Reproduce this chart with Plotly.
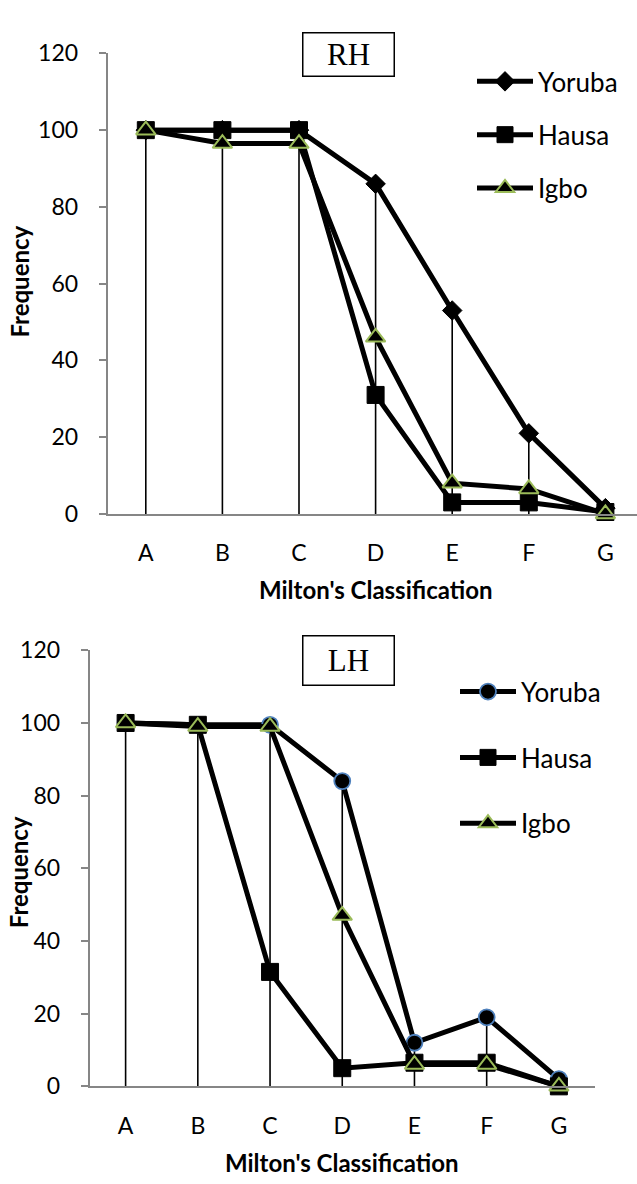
import plotly.graph_objects as go

categories = ["A", "B", "C", "D", "E", "F", "G"]
rh_yoruba = [100, 100, 100, 86, 53, 21, 1.5]
rh_hausa = [100, 100, 100, 31, 3, 3, 0.5]
rh_igbo = [100, 96.5, 96.5, 46, 8, 6.5, 0]
lh_yoruba = [100, 99.5, 99.5, 84, 12, 19, 2]
lh_hausa = [100, 99.5, 31.5, 5, 6.5, 6.5, 0]
lh_igbo = [100, 99, 99, 47, 6, 6, 0]
series_names = ["Yoruba", "Hausa", "Igbo"]
y_ticks = [0, 20, 40, 60, 80, 100, 120]

W, H = 637, 1184
FONT = "Lato"
BLACK = "#000000"
GREEN = "#9BBB59"
BLUE = "#4F81BD"
AXIS = "#868686"


def px_x(p):
    return p / W


def px_y(p):
    return (H - p) / H


def drop_line(series_list):
    xs, ys = [], []
    for i, c in enumerate(categories):
        top = max(s[i] for s in series_list)
        xs += [c, c, None]
        ys += [0, top, None]
    return xs, ys


fig = go.Figure()

# ---------------- RH (top) ----------------
dx, dy = drop_line([rh_yoruba, rh_hausa, rh_igbo])
fig.add_trace(go.Scatter(x=dx, y=dy, mode="lines", line=dict(color=BLACK, width=1.6),
                         showlegend=False, hoverinfo="skip", xaxis="x", yaxis="y"))
rh_styles = [
    dict(symbol="diamond", size=15, color=BLACK, line=dict(color=BLACK, width=1)),
    dict(symbol="square", size=17, color=BLACK, line=dict(color=BLACK, width=1)),
    dict(symbol="triangle-up", size=17, color=BLACK, line=dict(color=GREEN, width=2)),
]
for name, vals, mk in zip(series_names, [rh_yoruba, rh_hausa, rh_igbo], rh_styles):
    fig.add_trace(go.Scatter(x=categories, y=vals, name=name, mode="lines+markers",
                             line=dict(color=BLACK, width=5), marker=mk, cliponaxis=False,
                             legend="legend", legendgroup="rh" + name,
                             xaxis="x", yaxis="y"))

# ---------------- LH (bottom) ----------------
dx2, dy2 = drop_line([lh_yoruba, lh_hausa, lh_igbo])
fig.add_trace(go.Scatter(x=dx2, y=dy2, mode="lines", line=dict(color=BLACK, width=1.6),
                         showlegend=False, hoverinfo="skip", xaxis="x2", yaxis="y2"))
lh_styles = [
    dict(symbol="circle", size=16, color=BLACK, line=dict(color=BLUE, width=1.8)),
    dict(symbol="square", size=17, color=BLACK, line=dict(color=BLACK, width=1)),
    dict(symbol="triangle-up", size=17, color=BLACK, line=dict(color=GREEN, width=2)),
]
for name, vals, mk in zip(series_names, [lh_yoruba, lh_hausa, lh_igbo], lh_styles):
    fig.add_trace(go.Scatter(x=categories, y=vals, name=name, mode="lines+markers",
                             line=dict(color=BLACK, width=5), marker=mk, cliponaxis=False,
                             legend="legend2", legendgroup="lh" + name,
                             xaxis="x2", yaxis="y2"))

tickfont = dict(family=FONT, size=23, color=BLACK)

xcommon = dict(type="category", categoryorder="array", categoryarray=categories,
               showline=True, linecolor=AXIS, linewidth=1.5, ticks="", showgrid=False,
               zeroline=False, tickfont=tickfont, ticklabelstandoff=18, fixedrange=True)
ycommon = dict(range=[0, 120], tickvals=y_ticks, showline=True, linecolor=AXIS, linewidth=1.5,
               ticks="outside", ticklen=7, tickcolor=AXIS, tickwidth=1.5, showgrid=False,
               zeroline=False, tickfont=tickfont, ticklabelstandoff=16, fixedrange=True)

# top geometry
top_x0, top_x1 = 107.5, 637.0
top_step = 76.6
top_range_end = -0.5 + (top_x1 - top_x0) / top_step
top_y0, top_y1 = 511.0, 39.3
# bottom geometry
bot_x0, bot_x1 = 89.5, 595.0
bot_y0, bot_y1 = 1097.3, 650.7

legend_common = dict(font=dict(family=FONT, size=26, color=BLACK), bgcolor="rgba(0,0,0,0)",
                     itemwidth=56, xanchor="left", yanchor="top", traceorder="grouped",
                     itemclick=False, itemdoubleclick=False)

fig.update_layout(
    width=W, height=H, margin=dict(l=0, r=0, t=0, b=0),
    paper_bgcolor="white", plot_bgcolor="white",
    xaxis=dict(xcommon, domain=[px_x(top_x0), px_x(top_x1)], range=[-0.5, top_range_end], anchor="y"),
    yaxis=dict(ycommon, domain=[px_y(top_y0), px_y(top_y1)], anchor="x"),
    xaxis2=dict(xcommon, domain=[px_x(bot_x0), px_x(bot_x1)], range=[-0.5, 6.5], anchor="y2"),
    yaxis2=dict(ycommon, domain=[px_y(bot_y0), px_y(bot_y1)], anchor="x2"),
    legend=dict(legend_common, x=px_x(472), y=px_y(44), tracegroupgap=16.5),
    legend2=dict(legend_common, x=px_x(455), y=px_y(669), tracegroupgap=29),
    showlegend=True,
)

annos = [
    dict(text="RH", x=px_x(348.5), y=px_y(40), font=dict(family="Liberation Serif", size=31, color=BLACK)),
    dict(text="LH", x=px_x(348.5), y=px_y(661), font=dict(family="Liberation Serif", size=31, color=BLACK)),
]
for a, h in zip(annos, [42, 48]):
    fig.add_annotation(xref="paper", yref="paper", showarrow=False, xanchor="center", yanchor="middle",
                       bordercolor=BLACK, borderwidth=1.5, borderpad=0, width=90, height=h,
                       bgcolor="white", **a)

title_font = dict(family=FONT, size=24, color=BLACK)
for cx, cy in [((top_x0 + 644) / 2, 588), ((bot_x0 + bot_x1) / 2, 1175)]:
    fig.add_annotation(text="<b>Milton's Classification</b>", xref="paper", yref="paper",
                       x=px_x(cx), y=px_y(cy), showarrow=False, xanchor="center", yanchor="middle",
                       font=title_font)
for cx, cy in [(20, 273), (18, 878)]:
    fig.add_annotation(text="<b>Frequency</b>", xref="paper", yref="paper", textangle=-90,
                       x=px_x(cx), y=px_y(cy), showarrow=False, xanchor="center", yanchor="middle",
                       font=title_font)

fig.write_html("out.html", config={"displayModeBar": False},
               post_script="document.body.style.margin='0';document.body.style.overflow='hidden';")
